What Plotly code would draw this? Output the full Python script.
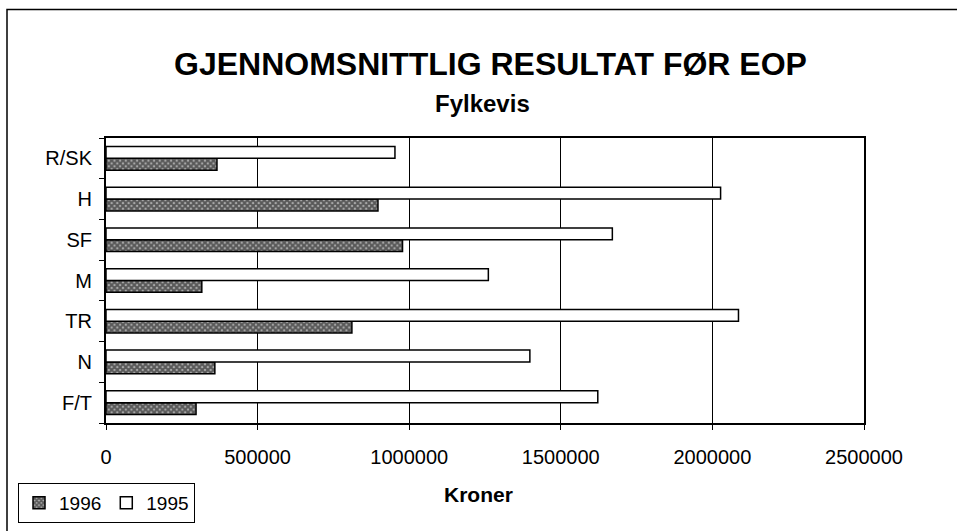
import plotly.graph_objects as go

categories = ["F/T", "N", "TR", "M", "SF", "H", "R/SK"]
values_1996 = [297000, 359000, 811000, 316000, 978000, 897000, 366000]
values_1995 = [1622000, 1398000, 2086000, 1261000, 1670000, 2027000, 953000]
x_tickvals = [0, 500000, 1000000, 1500000, 2000000, 2500000]
x_ticktext = ["0", "500000", "1000000", "1500000", "2000000", "2500000"]

W, H = 957, 531
L, R, T, B = 106, 93, 138, 108
PW, PH = W - L - R, H - T - B

def px_x(x):
    return (x - L) / PW

def px_y(y):
    return (H - B - y) / PH

FONT = "Liberation Sans, Arial, sans-serif"

fig = go.Figure()
fig.add_trace(go.Bar(
    y=categories, x=values_1996, name="1996", orientation="h",
    marker=dict(color="#9a9a9a", line=dict(color="black", width=1.5),
                pattern=dict(shape="x", fgcolor="#000000", bgcolor="#b0b0b0",
                             size=4, solidity=0.75)),
))
fig.add_trace(go.Bar(
    y=categories, x=values_1995, name="1995", orientation="h",
    marker=dict(color="white", line=dict(color="black", width=1.5)),
))

fig.update_layout(
    width=W, height=H,
    margin=dict(l=L, r=R, t=T, b=B, autoexpand=False),
    paper_bgcolor="white", plot_bgcolor="white",
    barmode="group", bargap=0.42, bargroupgap=0,
    font=dict(family=FONT, color="black", size=20),
    showlegend=True,
    legend=dict(orientation="h", x=px_x(18), y=px_y(483), xanchor="left", yanchor="top",
                bordercolor="black", borderwidth=1, bgcolor="white",
                font=dict(size=19, family=FONT), traceorder="normal",
                itemwidth=30, tracegroupgap=0),
    xaxis=dict(range=[0, 2500000], tickvals=x_tickvals, ticktext=x_ticktext,
               showgrid=True, gridcolor="black", gridwidth=1,
               showline=True, linecolor="black", linewidth=2, mirror=True,
               ticks="outside", ticklen=5, tickcolor="black",
               ticklabelstandoff=10, zeroline=False,
               tickfont=dict(size=20)),
    yaxis=dict(showline=True, linecolor="black", linewidth=2, mirror=True,
               ticks="outside", ticklen=5, tickcolor="black", tickson="boundaries",
               showgrid=False, ticklabelstandoff=8, tickfont=dict(size=20)),
    annotations=[
        dict(text="<b>GJENNOMSNITTLIG RESULTAT FØR EOP</b>", xref="paper", yref="paper",
             x=px_x(490), y=px_y(64), xanchor="center", yanchor="middle", showarrow=False,
             font=dict(size=32, family=FONT)),
        dict(text="<b>Fylkevis</b>", xref="paper", yref="paper",
             x=px_x(482), y=px_y(103), xanchor="center", yanchor="middle", showarrow=False,
             font=dict(size=24, family=FONT)),
        dict(text="<b>Kroner</b>", xref="paper", yref="paper",
             x=px_x(478), y=px_y(495), xanchor="center", yanchor="middle", showarrow=False,
             font=dict(size=21, family=FONT)),
        dict(text="<b>FIGUR 6</b>", xref="paper", yref="paper",
             x=px_x(487), y=px_y(4), xanchor="center", yanchor="bottom", showarrow=False,
             font=dict(size=26, family="Liberation Serif, Times New Roman, serif")),
    ],
    shapes=[
        dict(type="rect", xref="paper", yref="paper",
             x0=px_x(7), x1=px_x(1000), y0=px_y(560), y1=px_y(9.5),
             line=dict(color="black", width=1.5), fillcolor="rgba(0,0,0,0)", layer="below"),
    ],
)

fig.write_html("out.html", config={"displayModeBar": False},
               post_script="document.body.style.margin='0';document.body.style.overflow='hidden';")
